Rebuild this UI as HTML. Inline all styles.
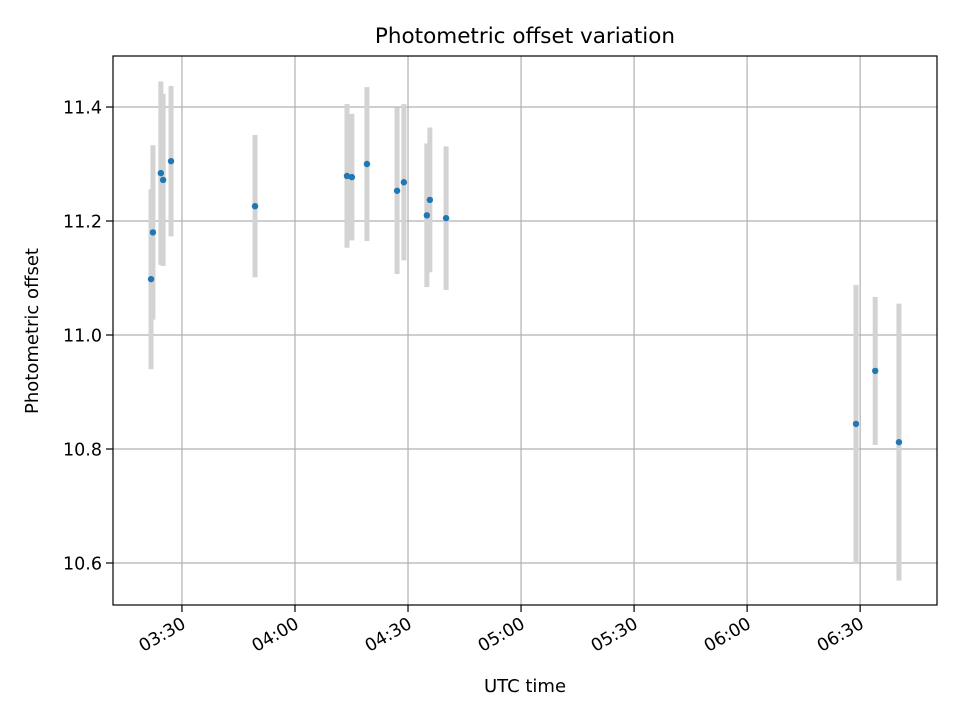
<!DOCTYPE html>
<html><head><meta charset="utf-8"><style>
body{margin:0;background:#fff;font-family:"DejaVu Sans","Liberation Sans",sans-serif}
</style></head><body>
<svg width="960" height="720" xmlns="http://www.w3.org/2000/svg" id="chart" font-family="DejaVu Sans, Liberation Sans, sans-serif">
<rect width="960" height="720" fill="#fff"/>
<g id="grid"></g><g id="bars"></g><g id="dots"></g>
<rect x="113" y="56" width="824" height="549" fill="none" stroke="#000" stroke-width="1.2"/>
<g id="ticks"></g>
<text x="525" y="43" text-anchor="middle" font-size="21.5">Photometric offset variation</text>
<text x="525" y="692" text-anchor="middle" font-size="18">UTC time</text>
<text transform="translate(38,331) rotate(-90)" text-anchor="middle" font-size="18">Photometric offset</text>
</svg>
<script>
const times=[201.8,202.3,204.4,205.0,207.1,229.4,253.8,255.1,259.1,267.1,268.9,275.0,275.8,280.1,388.9,394.0,400.3];
const offsets=[11.098,11.180,11.284,11.272,11.305,11.226,11.279,11.277,11.300,11.253,11.268,11.210,11.237,11.205,10.844,10.937,10.812];
const errors=[0.158,0.153,0.161,0.151,0.132,0.125,0.126,0.111,0.135,0.146,0.137,0.126,0.127,0.126,0.244,0.130,0.243];
const xTicks=[210,240,270,300,330,360,390];
const xTickLabels=["03:30","04:00","04:30","05:00","05:30","06:00","06:30"];
const yTicks=[10.6,10.8,11.0,11.2,11.4];
const yTickLabels=["10.6","10.8","11.0","11.2","11.4"];
const L=113,R=937,T=56,B=605,X0=191.7,X1=410.4,Y0=10.5263,Y1=11.4895;
const sx=v=>L+(v-X0)/(X1-X0)*(R-L);
const sy=v=>B-(v-Y0)/(Y1-Y0)*(B-T);
const NS="http://www.w3.org/2000/svg";
function mk(parent,tag,attrs){const e=document.createElementNS(NS,tag);for(const k in attrs)e.setAttribute(k,attrs[k]);document.getElementById(parent).appendChild(e);return e;}
xTicks.forEach((t,i)=>{const x=sx(t);
 let g=mk('grid','line',{x1:x,x2:x,y1:T,y2:B,stroke:'#b0b0b0','stroke-width':1.2});
 
 
 let tk=mk('ticks','line',{x1:x,x2:x,y1:B,y2:B+7,stroke:'#000','stroke-width':1.2});
 
 
 let tx=mk('ticks','text',{transform:`translate(${x+5},${B+22}) rotate(-30)`,'text-anchor':'end','font-size':17.5});
 tx.textContent=xTickLabels[i];
 
 
});
yTicks.forEach((t,i)=>{const y=sy(t);
 let g=mk('grid','line',{x1:L,x2:R,y1:y,y2:y,stroke:'#b0b0b0','stroke-width':1.2});
 
 
 let tk=mk('ticks','line',{x1:L-7,x2:L,y1:y,y2:y,stroke:'#000','stroke-width':1.2});
 
 
 let tx=mk('ticks','text',{x:L-11,y:y+6.5,'text-anchor':'end','font-size':17.5});
 tx.textContent=yTickLabels[i];
 
 
});
times.forEach((t,i)=>{const x=sx(t);
 let b=mk('bars','line',{x1:x,x2:x,y1:sy(offsets[i]+errors[i]),y2:sy(offsets[i]-errors[i]),stroke:'#d3d3d3','stroke-width':5});
 
 
 let d=mk('dots','circle',{cx:x,cy:sy(offsets[i]),r:3.2,fill:'#1f77b4'});
 
 
});
</script>
</body></html>
